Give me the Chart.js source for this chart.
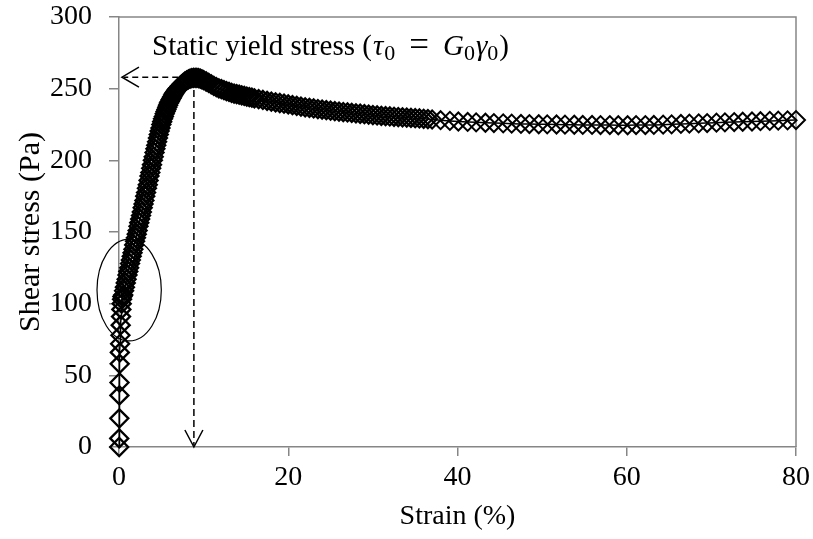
<!DOCTYPE html>
<html>
<head>
<meta charset="utf-8">
<script src="https://cdn.jsdelivr.net/npm/chart.js@4"></script>
<style>
  html, body { margin: 0; padding: 0; background: #fff; }
  #wrap { width: 813px; height: 539px; }
</style>
</head>
<body>
<div id="wrap"><canvas id="c" width="813" height="539"></canvas></div>
<script>
// ---------------- data ----------------
// vertical stack of points at (nearly) zero strain
const strainStack = [0.02,0.03,0.04,0.05,0.06,0.08,0.1,0.13,0.17,0.2,0.24,0.28,0.32,0.36,0.4];
const stressStack = [0,6,20,36,45,58,66,72,78,85,91,96,100,103,105];

// rise up to the static yield stress
const strainRise = [0.5,0.6,0.7,0.8,0.9,1.0,1.1,1.2,1.3,1.4,
                    1.5,1.6,1.7,1.8,1.9,2.0,2.1,2.2,2.3,2.4,
                    2.5,2.6,2.7,2.8,2.9,3.0,3.1,3.2,3.3,3.4,
                    3.5,3.6,3.7,3.8,3.9,4.0,4.1,4.2,4.3,4.4,
                    4.5,4.6,4.7,4.8,4.9,5.0,5.1,5.2,5.3,5.4,
                    5.5,5.6,5.7,5.8,5.9,6.0,6.1,6.2,6.3,6.4,
                    6.5,6.6,6.7,6.8,6.9,7.0,
                    7.2,7.4,7.6,7.8,8.0,8.2,8.4,8.6,8.8,9.0,9.2,9.4,9.6,9.8,10.0];
const stressRise = [106,109,111.5,114.5,117,120,122.5,125,128,130.5,
                    133,135.5,138,141,143.5,146,148.5,151,154,156.5,
                    159,161.5,164,167,169.5,172,175,177.5,180.5,183,
                    186,189,191.5,194.5,197,200,202.5,205.5,208,210.5,
                    213,215.5,218,220.5,222.5,225,227,229,230.5,232.5,
                    234,235.5,237,238.5,240,241,242.2,243.3,244.4,245.5,
                    246.5,247.4,248.2,249,249.8,250.5,
                    251.8,253,254,255,255.8,256.4,257,257.3,257.6,257.6,257.5,257.3,257,256.5,256];

// decay after the peak
const strainDecay = [10.3,10.6,10.9,11.2,11.5,11.8,12.1,12.4,12.7,13.0,
                     13.3,13.6,13.9,14.2,14.5,14.8,15.1,15.4,15.7,16.0,
                     16.5,17.0,17.5,18.0,18.5,19.0,19.5,20.0,20.5,21.0,
                     21.5,22.0,22.5,23.0,23.5,24.0,24.5,25.0,25.5,26.0,
                     26.5,27.0,27.5,28.0,28.5,29.0,29.5,30.0,30.5,31.0,
                     31.5,32.0,32.5,33.0,33.5,34.0,34.5,35.0,35.5,36.0,36.5];
const stressDecay = [255,254,253,252,251,250.2,249.6,248.9,248.3,247.7,
                     247.1,246.6,246.2,245.8,245.3,244.9,244.5,244.1,243.7,243.3,
                     242.7,242.1,241.5,241.0,240.5,240.0,239.5,239.0,238.5,238.0,
                     237.5,237.0,236.6,236.2,235.8,235.4,235.0,234.6,234.3,234.0,
                     233.7,233.4,233.1,232.8,232.5,232.2,231.9,231.6,231.3,231.0,
                     230.8,230.6,230.4,230.2,230.0,229.8,229.6,229.4,229.2,229.0,228.8];

// plateau (sparser sampling)
const strainPlateau = [37.0,38.0,39.1,40.1,41.2,42.2,43.3,44.3,45.4,46.4,
                       47.5,48.5,49.6,50.6,51.7,52.7,53.8,54.8,55.9,56.9,
                       58.0,59.0,60.1,61.1,62.2,63.2,64.3,65.3,66.4,67.4,
                       68.5,69.5,70.6,71.6,72.7,73.7,74.8,75.8,76.9,77.9,
                       79.0,80.0];
const stressPlateau = [228.5,228.0,227.5,227.1,226.8,226.5,226.2,226.0,225.8,225.6,
                       225.4,225.3,225.2,225.1,225.0,224.9,224.8,224.7,224.7,224.6,
                       224.6,224.5,224.5,224.6,224.6,224.7,224.9,225.1,225.4,225.6,
                       225.8,226.0,226.3,226.5,226.7,226.9,227.1,227.3,227.5,227.7,
                       227.9,228.1];

// axis ticks
const xTicks = [0, 20, 40, 60, 80];
const yTicks = [0, 50, 100, 150, 200, 250, 300];

// annotation anchors (data coordinates)
const yieldStrain = 8.85;
const yieldStress = 258;
const hArrowFromStrain = 7.0;
const hArrowTipStrain = 0.35;
const vArrowFromStress = 249;
const ellipseStrain = [-2.6, 5.0];
const ellipseStress = [74, 145];

const xTitle = 'Strain (%)';
const yTitle = 'Shear stress (Pa)';
const noteText = 'Static yield stress (';

// ---------------- build ----------------
function zip(xs, ys) { return xs.map((x, i) => ({ x: x, y: ys[i] })); }
const points = [].concat(
  zip(strainStack, stressStack),
  zip(strainRise, stressRise),
  zip(strainDecay, stressDecay),
  zip(strainPlateau, stressPlateau)
);
const denseCount = strainStack.length + strainRise.length + strainDecay.length;

const FONT = "'Liberation Serif', 'Times New Roman', serif";
const FS = 28;
const AXIS_GRAY = '#868686';

const annot = {
  id: 'annot',
  beforeDatasetsDraw(chart) {
    const { ctx, chartArea: a } = chart;
    ctx.save();
    ctx.strokeStyle = AXIS_GRAY;
    ctx.lineWidth = 1.5;
    ctx.beginPath();
    ctx.moveTo(a.left, a.top);
    ctx.lineTo(a.right, a.top);
    ctx.lineTo(a.right, a.bottom);
    ctx.stroke();
    ctx.restore();
  },
  afterDatasetsDraw(chart) {
    const { ctx } = chart;
    const xs = chart.scales.x, ys = chart.scales.y;
    ctx.save();
    ctx.strokeStyle = '#000';
    ctx.lineWidth = 1.5;
    // horizontal dashed arrow
    const hy = ys.getPixelForValue(yieldStress);
    const hx0 = xs.getPixelForValue(hArrowFromStrain);
    const hx1 = xs.getPixelForValue(hArrowTipStrain);
    ctx.setLineDash([6, 4]);
    ctx.beginPath(); ctx.moveTo(hx0, hy); ctx.lineTo(hx1 + 2, hy); ctx.stroke();
    ctx.setLineDash([]);
    ctx.beginPath();
    ctx.moveTo(hx1 + 17, hy - 10); ctx.lineTo(hx1, hy); ctx.lineTo(hx1 + 17, hy + 10);
    ctx.stroke();
    // vertical dashed arrow
    const vx = xs.getPixelForValue(yieldStrain);
    const vy0 = ys.getPixelForValue(vArrowFromStress);
    const vy1 = ys.getPixelForValue(0);
    ctx.setLineDash([7, 4]);
    ctx.beginPath(); ctx.moveTo(vx, vy0); ctx.lineTo(vx, vy1 - 2); ctx.stroke();
    ctx.setLineDash([]);
    ctx.beginPath();
    ctx.moveTo(vx - 9, vy1 - 17); ctx.lineTo(vx, vy1); ctx.lineTo(vx + 9, vy1 - 17);
    ctx.stroke();
    // ellipse
    const ex0 = xs.getPixelForValue(ellipseStrain[0]), ex1 = xs.getPixelForValue(ellipseStrain[1]);
    const ey0 = ys.getPixelForValue(ellipseStress[1]), ey1 = ys.getPixelForValue(ellipseStress[0]);
    ctx.lineWidth = 1.2;
    ctx.beginPath();
    ctx.ellipse((ex0 + ex1) / 2, (ey0 + ey1) / 2, (ex1 - ex0) / 2, (ey1 - ey0) / 2, 0, 0, Math.PI * 2);
    ctx.stroke();
    // text
    ctx.fillStyle = '#000';
    ctx.textBaseline = 'alphabetic';
    ctx.textAlign = 'left';
    let x = 152;
    const base = 55;
    const main = 29;
    const sub = 22;
    function put(t, style, size, dy) {
      ctx.font = style + ' ' + size + 'px ' + FONT;
      ctx.fillText(t, x, base + (dy || 0));
      x += ctx.measureText(t).width;
    }
    put(noteText, 'normal', main);
    x += 1;
    put('\u03C4', 'italic', main);
    x += 1;
    put('0', 'normal', sub, 5);
    x += 14;
    put('=', 'normal', main + 6, 1);
    x += 14;
    put('G', 'italic', main);
    put('0', 'normal', sub, 5);
    x += 1;
    put('\u03B3', 'italic', main);
    put('0', 'normal', sub, 5);
    x += 1;
    put(')', 'normal', main);
    ctx.restore();
  }
};

new Chart(document.getElementById('c'), {
  type: 'scatter',
  data: {
    datasets: [{
      data: points,
      showLine: true,
      borderColor: '#000',
      borderWidth: 1.5,
      pointStyle: 'rectRot',
      pointRadius: 9,
      pointHoverRadius: 9,
      pointBorderColor: '#000',
      pointBackgroundColor: 'rgba(0,0,0,0)',
      pointBorderWidth: ctx => (ctx.dataIndex < denseCount ? 2.3 : 2),
      tension: 0,
      clip: false
    }]
  },
  options: {
    responsive: false,
    animation: false,
    events: [],
    layout: { padding: { top: 17, right: 17, left: 0, bottom: 0 } },
    plugins: { legend: { display: false }, tooltip: { enabled: false } },
    scales: {
      x: {
        type: 'linear', min: 0, max: 80,
        afterBuildTicks: s => { s.ticks = xTicks.map(v => ({ value: v })); },
        afterFit: s => { s.height = 92; s.paddingLeft = 0; s.paddingRight = 0; },
        ticks: { font: { family: FONT, size: FS }, color: '#000', padding: 5, maxRotation: 0 },
        grid: { drawOnChartArea: false, drawTicks: true, tickLength: 9, color: AXIS_GRAY, lineWidth: 1.5 },
        border: { color: AXIS_GRAY, width: 1.5 },
        title: { display: true, text: xTitle, color: '#000', font: { family: FONT, size: FS }, padding: 6 }
      },
      y: {
        type: 'linear', min: 0, max: 300,
        afterBuildTicks: s => { s.ticks = yTicks.map(v => ({ value: v })); },
        afterFit: s => { s.width = 119; s.paddingTop = 0; s.paddingBottom = 0; },
        ticks: { font: { family: FONT, size: FS }, color: '#000', padding: 17 },
        grid: { drawOnChartArea: false, drawTicks: true, tickLength: 10, color: AXIS_GRAY, lineWidth: 1.5 },
        border: { color: AXIS_GRAY, width: 1.5 },
        title: { display: true, text: yTitle, color: '#000', font: { family: FONT, size: 30 }, padding: 13 }
      }
    }
  },
  plugins: [annot]
});
</script>
</body>
</html>
